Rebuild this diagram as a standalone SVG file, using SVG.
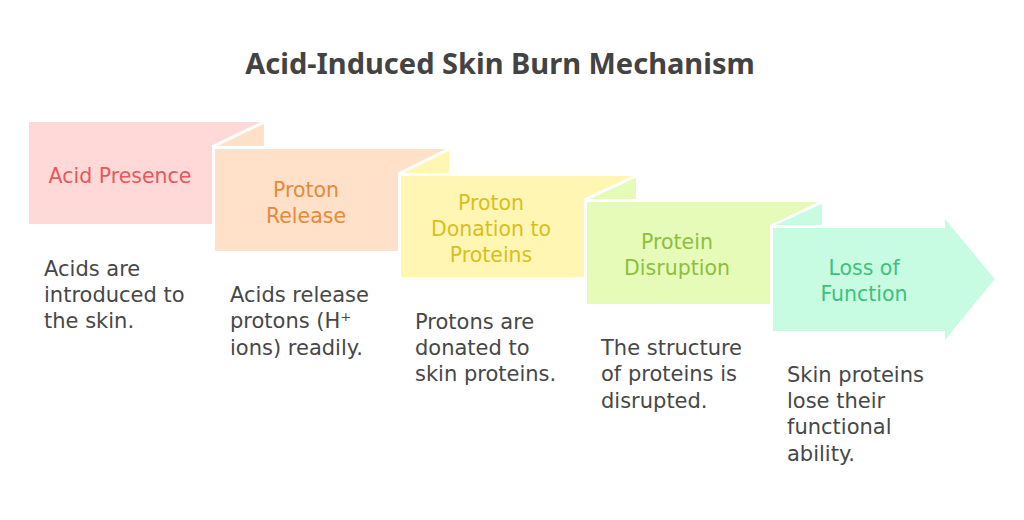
<svg xmlns="http://www.w3.org/2000/svg" width="1024" height="520" viewBox="0 0 1024 520">
<style>
  .title { font-family: "Noto Sans", "Open Sans", sans-serif; font-weight: 700; font-size: 29px; fill: #434343; }
  .lbl { font-family: "DejaVu Sans", "Noto Sans", sans-serif; font-size: 20.5px; text-anchor: middle; }
  .desc { font-family: "DejaVu Sans", "Noto Sans", sans-serif; font-size: 21px; fill: #474747; }
  .shp { stroke: #ffffff; stroke-width: 2; stroke-linejoin: miter; }
</style>
<rect width="1024" height="520" fill="#ffffff"/>
<text class="title" x="500" y="74" text-anchor="middle">Acid-Induced Skin Burn Mechanism</text>

<g id="connectors"></g>

<g id="step1">
  <polygon class="shp" fill="#FFD8D8" points="28,121 265,121 213,146 213,225 28,225"/>
  <text class="lbl" fill="#E5585B" x="120" y="183">Acid Presence</text>
  <text class="desc" x="44"><tspan x="44" y="276">Acids are</tspan><tspan x="44" y="302">introduced to</tspan><tspan x="44" y="328">the skin.</tspan></text>
</g>

<g id="step2">
  <polygon class="shp" fill="#FFE1C9" points="213,147 265,122 265,147"/>
  <polygon class="shp" fill="#FFE1C9" points="214,148 450,148 399,173 399,252 214,252"/>
  <text class="lbl" fill="#E6893D"><tspan x="306" y="197">Proton</tspan><tspan x="306" y="223">Release</tspan></text>
  <text class="desc"><tspan x="230" y="302">Acids release</tspan><tspan x="230" y="328">protons (H⁺</tspan><tspan x="230" y="355">ions) readily.</tspan></text>
</g>

<g id="step3">
  <polygon class="shp" fill="#FFF6B3" points="399,174 450,149 450,174"/>
  <polygon class="shp" fill="#FFF6B3" points="400,175 637,175 585,199 585,278 400,278"/>
  <text class="lbl" fill="#D9BF1C"><tspan x="491" y="210">Proton</tspan><tspan x="491" y="236">Donation to</tspan><tspan x="491" y="262">Proteins</tspan></text>
  <text class="desc"><tspan x="415" y="329">Protons are</tspan><tspan x="415" y="355">donated to</tspan><tspan x="415" y="381">skin proteins.</tspan></text>
</g>

<g id="step4">
  <polygon class="shp" fill="#E7FBB8" points="585,200 637,176 637,200"/>
  <polygon class="shp" fill="#E7FBB8" points="586,201 823,201 771,226 771,305 586,305"/>
  <text class="lbl" fill="#8CBF3F"><tspan x="677" y="249">Protein</tspan><tspan x="677" y="275">Disruption</tspan></text>
  <text class="desc"><tspan x="601" y="355">The structure</tspan><tspan x="601" y="381">of proteins is</tspan><tspan x="601" y="408">disrupted.</tspan></text>
</g>

<g id="step5">
  <polygon class="shp" fill="#C7FCE2" points="771,226 823,202 823,226"/>
  <polygon class="shp" fill="#C7FCE2" points="772,227 944,227 944,216 996,279 944,343 944,332 772,332"/>
  <text class="lbl" fill="#3DC27C"><tspan x="864" y="275">Loss of</tspan><tspan x="864" y="301">Function</tspan></text>
  <text class="desc"><tspan x="787" y="382">Skin proteins</tspan><tspan x="787" y="408">lose their</tspan><tspan x="787" y="434">functional</tspan><tspan x="787" y="461">ability.</tspan></text>
</g>
</svg>
